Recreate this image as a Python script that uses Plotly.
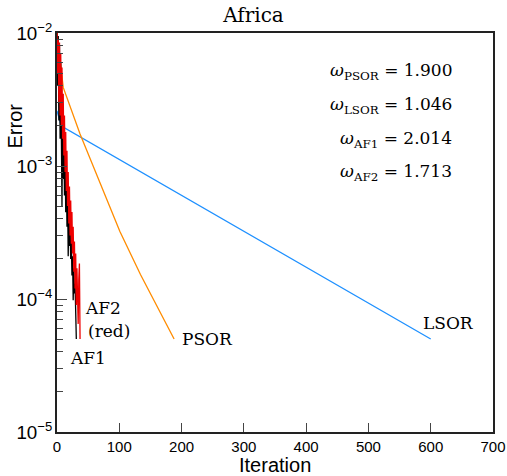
import plotly.graph_objects as go

# convergence history, Africa grid
af1_iter = list(range(32))
af1_err = [1.0e-2, 4.0e-3, 9.5e-3, 2.2e-3, 8.0e-3, 1.6e-3, 6.0e-3, 1.2e-3,
           5.0e-4, 2.5e-3, 8.0e-4, 2.0e-3, 6.0e-4, 1.4e-3, 4.5e-4, 9.0e-4,
           3.5e-4, 6.0e-4, 2.1e-4, 4.5e-4, 2.5e-4, 3.8e-4, 2.0e-4, 2.8e-4,
           1.5e-4, 2.1e-4, 9.8e-5, 1.7e-4, 1.1e-4, 1.3e-4, 6.7e-5, 5.0e-5]

af2_iter = list(range(38))
af2_err = [1.0e-2, 5.0e-3, 9.0e-3, 3.0e-3, 8.5e-3, 2.4e-3, 7.0e-3, 2.0e-3,
           5.5e-3, 1.6e-3, 3.5e-3, 1.2e-3, 2.4e-3, 9.0e-4, 1.8e-3, 6.5e-4,
           1.3e-3, 5.0e-4, 9.0e-4, 3.7e-4, 7.0e-4, 3.0e-4, 5.5e-4, 2.6e-4,
           4.5e-4, 2.2e-4, 3.5e-4, 1.6e-4, 2.7e-4, 1.2e-4, 2.2e-4, 9.0e-5,
           1.7e-4, 7.5e-5, 6.5e-5, 1.4e-4, 1.85e-4, 5.0e-5]

psor_iter = [0, 10, 37, 76, 101, 134, 166, 188]
psor_err = [1.0e-2, 3.9e-3, 1.74e-3, 6.1e-4, 3.22e-4, 1.53e-4, 7.85e-5, 5.0e-5]

lsor_iter = [0, 7, 600]
lsor_err = [2.6e-3, 2.0e-3, 5.0e-5]

omega_names = ["PSOR", "LSOR", "AF1", "AF2"]
omega_vals = [1.900, 1.046, 2.014, 1.713]

serif = "DejaVu Serif"
sans = "Liberation Sans"

fig = go.Figure()
fig.add_trace(go.Scatter(x=lsor_iter, y=lsor_err, mode="lines",
                         line=dict(color="#1e90ff", width=1.3)))
fig.add_trace(go.Scatter(x=psor_iter, y=psor_err, mode="lines",
                         line=dict(color="#ff8c00", width=1.3)))
fig.add_trace(go.Scatter(x=af1_iter, y=af1_err, mode="lines",
                         line=dict(color="black", width=1.3)))
fig.add_trace(go.Scatter(x=af2_iter, y=af2_err, mode="lines",
                         line=dict(color="#ee0000", width=1.3)))

# curve labels
labels = [("AF2", 42, -4.07), ("(red)", 47, -4.24), ("AF1", 17, -4.44),
          ("PSOR", 198, -4.30), ("LSOR", 585, -4.18)]
for txt, lx, ly in labels:
    fig.add_annotation(x=lx, y=ly, text=txt, showarrow=False, xanchor="left",
                       yanchor="middle", font=dict(family=serif, size=17, color="black"))

# relaxation factors
for i, (nm, val) in enumerate(zip(omega_names, omega_vals)):
    fig.add_annotation(x=638, y=-2.293 - i * 0.253,
                       text=f"<i>ω</i><sub>{nm}</sub> = {val:.3f}",
                       showarrow=False, xanchor="right", yanchor="middle",
                       font=dict(family=serif, size=17, color="black"))

# axis titles
fig.add_annotation(xref="paper", yref="paper", x=-0.096, y=0.766, text="Error",
                   textangle=-90, showarrow=False, xanchor="center", yanchor="middle",
                   font=dict(family=sans, size=20, color="black"))
fig.add_annotation(xref="paper", yref="paper", x=0.5, y=-0.083, text="Iteration",
                   showarrow=False, xanchor="center", yanchor="middle",
                   font=dict(family=sans, size=20, color="black"))

fig.update_layout(
    width=507, height=476,
    margin=dict(l=57, r=14, t=33, b=44),
    paper_bgcolor="white", plot_bgcolor="white",
    showlegend=False,
    title=dict(text="Africa", x=0.5, xanchor="center", y=0.968, yanchor="middle",
               font=dict(family=serif, size=20, color="black")),
)
fig.update_xaxes(range=[0, 700], dtick=100, showgrid=False, zeroline=False, automargin=False,
                 showline=True, linecolor="#222", linewidth=1.6, mirror=True,
                 ticks="inside", ticklen=9, tickwidth=1.2, tickcolor="#444",
                 tickfont=dict(family=sans, size=15, color="black"))
fig.update_yaxes(type="log", range=[-5, -2], dtick=1, exponentformat="power",
                 showgrid=False, zeroline=False, automargin=False,
                 showline=True, linecolor="#222", linewidth=1.6, mirror=True,
                 ticks="inside", ticklen=10, tickwidth=1.2, tickcolor="#444",
                 minor=dict(ticks="inside", ticklen=6, tickwidth=1.2, tickcolor="#444", showgrid=False),
                 tickfont=dict(family=sans, size=15, color="black"))

# page body has a default 8px margin; drop it so the figure sits at 0,0
fig.write_html("out.html", config={"displayModeBar": False},
               post_script="document.body.style.margin = '0';")
